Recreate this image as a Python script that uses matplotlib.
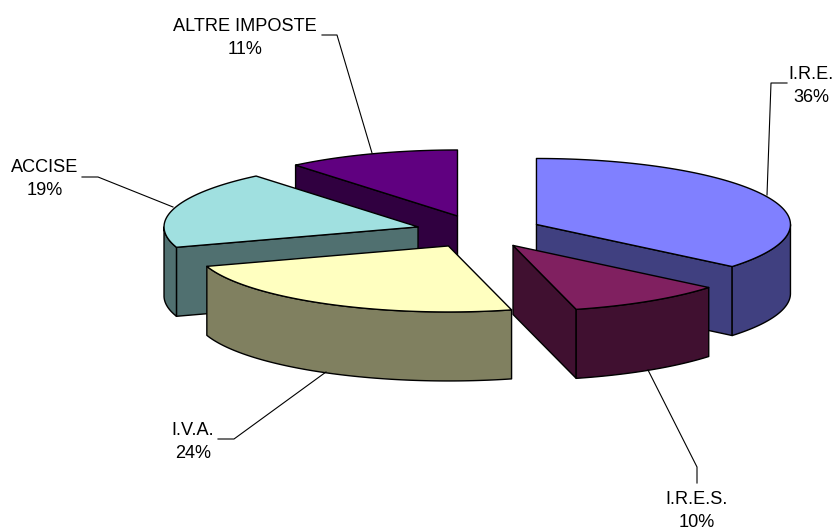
import numpy as np
import matplotlib
matplotlib.use("Agg")
import matplotlib.pyplot as plt

labels = ["I.R.E.", "I.R.E.S.", "I.V.A.", "ACCISE", "ALTRE IMPOSTE"]
values = [36, 10, 24, 19, 11]
top_colors = ["#8080FF", "#802060", "#FFFFC0", "#A0E0E0", "#600080"]
side_colors = ["#404080", "#401030", "#808060", "#507070", "#300040"]

# pie geometry in pixels
CX, CY = 479, 231.5
RX, RY = 254, 66
DEPTH = 69
EXPLODE = 0.25

# label centre, then leader line from the label to the slice
label_pos = [(811, 86), (697, 511), (193, 442), (45, 179), (245, 38)]
leaders = [
    [(787, 83), (771, 83), (767, 195)],
    [(697, 483), (697, 467), (648, 370)],
    [(218, 439), (234, 439), (326, 372)],
    [(82, 177), (98, 177), (173, 207)],
    [(322, 35), (337, 35), (372, 153)],
]


def ell(theta, ox, oy):
    t = np.radians(theta)
    return np.column_stack([ox + RX * np.sin(t), oy - RY * np.cos(t)])


def main():
    fig = plt.figure(figsize=(8.38, 5.3), dpi=100)
    ax = fig.add_axes([0, 0, 1, 1])
    ax.set_xlim(0, 838)
    ax.set_ylim(530, 0)
    ax.set_axis_off()

    shares = np.array(values) / sum(values) * 360
    ends = np.cumsum(shares)
    starts = ends - shares
    style = dict(edgecolor="black", linewidth=1.0, joinstyle="round")

    # back slices first, so the front ones paint over them
    for i in [4, 3, 0, 1, 2]:
        a0, a1 = starts[i], ends[i]
        mid = np.radians((a0 + a1) / 2)
        ox = CX + EXPLODE * RX * np.sin(mid)
        oy = CY - EXPLODE * RY * np.cos(mid)
        apex = np.array([[ox, oy]])
        down = np.array([0, DEPTH])

        # radial faces that look at the viewer
        if np.sin(np.radians(a0)) < -1e-6:
            p = ell(np.array([a0]), ox, oy)
            ax.fill(*np.vstack([apex, p, p + down, apex + down]).T,
                    facecolor=side_colors[i], **style)
        if np.sin(np.radians(a1)) > 1e-6:
            p = ell(np.array([a1]), ox, oy)
            ax.fill(*np.vstack([apex, p, p + down, apex + down]).T,
                    facecolor=side_colors[i], **style)

        # outer wall, only the front half of the rim shows
        w0, w1 = max(a0, 90), min(a1, 270)
        if w1 > w0:
            rim = ell(np.linspace(w0, w1, 80), ox, oy)
            ax.fill(*np.vstack([rim, (rim + down)[::-1]]).T,
                    facecolor=side_colors[i], **style)

        arc = ell(np.linspace(a0, a1, 120), ox, oy)
        ax.fill(*np.vstack([apex, arc]).T, facecolor=top_colors[i], **style)

    for name, val, pos, line in zip(labels, values, label_pos, leaders):
        xs, ys = zip(*line)
        ax.plot(xs, ys, color="black", linewidth=0.8)
        ax.text(pos[0], pos[1], f"{name}\n{val}%", ha="center", va="center",
                family="Liberation Sans", fontsize=13.1, linespacing=1.42)

    fig.savefig("out.png", dpi=100)
    plt.close(fig)


if __name__ == "__main__":
    main()
